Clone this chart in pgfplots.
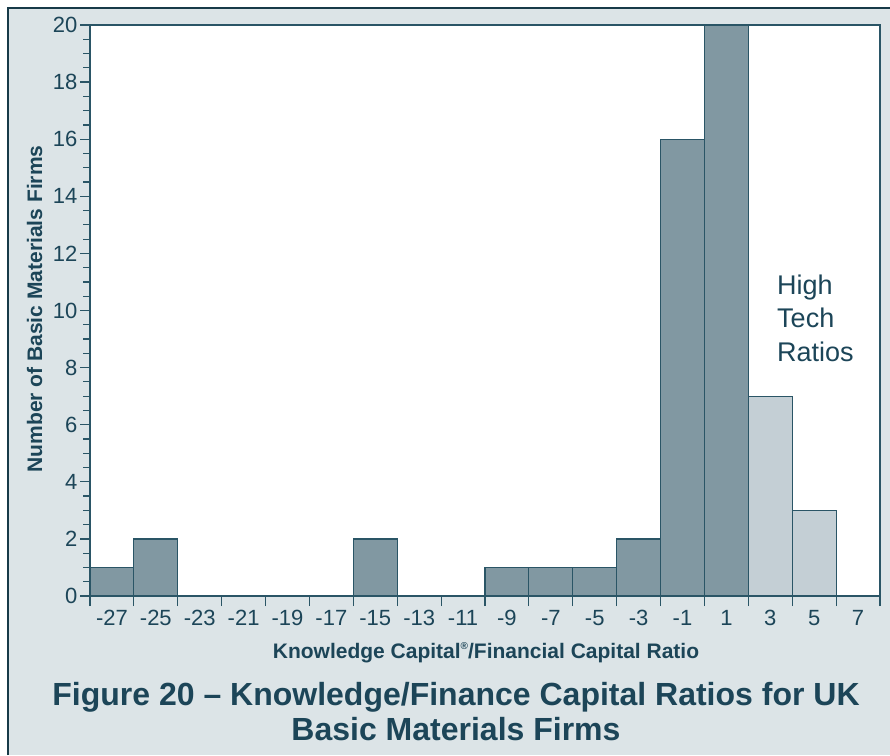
\documentclass[border=0pt]{standalone}
\usepackage{pgfplots}
\pgfplotsset{compat=1.18}
\usepackage{fontspec}
\setmainfont{Liberation Sans}
\definecolor{bgc}{HTML}{DCE4E7}
\definecolor{txt}{HTML}{1C4558}
\definecolor{barc}{HTML}{8198A2}
\definecolor{lbarc}{HTML}{C4CFD5}
\definecolor{edgec}{HTML}{2A5566}
\definecolor{framec}{HTML}{173A48}
\begin{document}
\begin{tikzpicture}[x=1pt,y=1pt]
\useasboundingbox (0,0) rectangle (890,755);
\fill[bgc] (8,0) rectangle (890,747);
\draw[framec, line width=2.5pt] (8,0) -- (8,747) -- (890,747);
\begin{axis}[
 at={(90pt,159pt)}, anchor=south west,
 scale only axis, width=790pt, height=571pt,
 xmin=-28, xmax=8, ymin=0, ymax=20,
 axis background/.style={fill=white},
 axis line style={draw=edgec, line width=1.2pt},
 xtick={-28,-26,...,8}, xticklabels={},
 extra x ticks={-27,-25,...,7},
 extra x tick labels={-27,-25,-23,-21,-19,-17,-15,-13,-11,-9,-7,-5,-3,-1,1,3,5,7},
 extra x tick style={major tick length=0pt},
 ytick={0,2,...,20}, minor y tick num=3,
 tick align=outside, xtick pos=bottom, ytick pos=left,
 major tick length=10pt, minor tick length=7pt,
 tick style={draw=edgec, line width=1.2pt},
 every tick label/.append style={font=\fontsize{22}{22}\selectfont, text=txt},
 xticklabel style={yshift=-11pt},
 yticklabel style={xshift=1pt},
 /pgf/number format/assume math mode=true,
 ybar, bar width=2, bar shift=0pt,
]
\addplot[fill=barc, draw=edgec, line width=1.2pt] coordinates {
(-27,1) (-25,2) (-23,0) (-21,0) (-19,0) (-17,0) (-15,2) (-13,0) (-11,0)
(-9,1) (-7,1) (-5,1) (-3,2) (-1,16) (1,20)};
\addplot[fill=lbarc, draw=edgec, line width=1.2pt] coordinates {
(3,7) (5,3) (7,0)};
\end{axis}
\node[rotate=90, text=txt, font=\fontsize{21}{21}\selectfont\bfseries, inner sep=0] at (34.5,446) {Number of Basic Materials Firms};
\node[anchor=base, text=txt, font=\fontsize{21}{21}\selectfont\bfseries, inner sep=0] at (486,97) {Knowledge Capital\raisebox{0.75ex}{\fontsize{10}{10}\selectfont\textregistered}/Financial Capital Ratio};
\node[anchor=base, text=txt, font=\fontsize{32}{32}\selectfont\bfseries, inner sep=0] at (456,50) {Figure 20 \textendash{} Knowledge/Finance Capital Ratios for UK};
\node[anchor=base, text=txt, font=\fontsize{32}{32}\selectfont\bfseries, inner sep=0] at (456,15) {Basic Materials Firms};
\node[anchor=base west, text=txt, font=\fontsize{27}{27}\selectfont, inner sep=0] at (777,460) {High};
\node[anchor=base west, text=txt, font=\fontsize{27}{27}\selectfont, inner sep=0] at (777,427) {Tech};
\node[anchor=base west, text=txt, font=\fontsize{27}{27}\selectfont, inner sep=0] at (777,393) {Ratios};
\end{tikzpicture}
\end{document}
